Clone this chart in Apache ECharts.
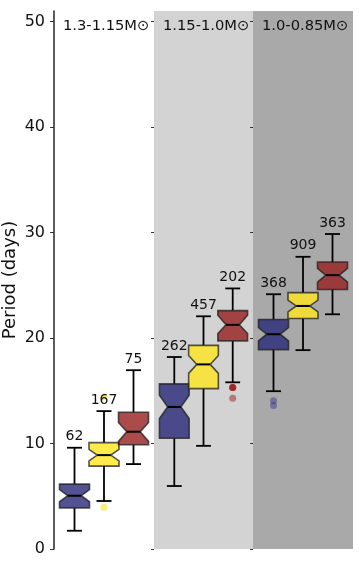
<!DOCTYPE html>
<html>
<head>
<meta charset="utf-8">
<script src="https://cdn.jsdelivr.net/npm/echarts@6/dist/echarts.min.js"></script>
<style>
  html, body { margin: 0; padding: 0; background: #fff; }
  #chart { width: 360px; height: 561px; }
</style>
</head>
<body>
<div id="chart"></div>
<script>
// panels (mass bins), each with 3 boxes: blue, yellow, red
const panelNames = ['1.3-1.15M\u2299', '1.15-1.0M\u2299', '1.0-0.85M\u2299']
const yTicks = [0, 10, 20, 30, 40, 50]

const counts = [[62, 167, 75], [262, 457, 202], [368, 909, 363]]
const whiskerLow = [[1.73, 4.55, 8.05], [5.97, 9.78, 15.8], [14.96, 18.85, 22.25]]
const q1 = [[3.9, 7.86, 9.88], [10.5, 15.2, 19.73], [18.9, 21.85, 24.6]]
const median = [[5.05, 8.9, 11.12], [13.47, 17.5, 21.25], [20.36, 23.04, 25.96]]
const q3 = [[6.15, 10.08, 12.96], [15.65, 19.3, 22.6], [21.75, 24.3, 27.2]]
const whiskerHigh = [[9.6, 13.07, 16.95], [18.2, 22.06, 24.7], [24.15, 27.7, 29.86]]
const notchLow = [[4.48, 8.35, 10.2], [12.37, 16.65, 20.43], [19.73, 22.47, 25.3]]
const notchHigh = [[5.62, 9.45, 12.0], [14.57, 18.35, 22.16], [20.99, 23.6, 26.6]]
const outliers = [
  [[], [14.4, 3.95], []],
  [[], [], [15.3, 15.3, 15.3, 14.3]],
  [[14.05, 13.6], [], []]
]

const boxFill = ['rgba(40,40,120,0.8)', 'rgba(255,230,30,0.8)', 'rgba(150,30,30,0.8)']
const flierFill = ['rgba(40,40,140,0.55)', 'rgba(255,228,30,0.75)', 'rgba(150,0,0,0.55)']
const panelBg = ['#ffffff', '#d3d3d3', '#a9a9a9']
const boxOffset = [-0.295, 0, 0.295]
const boxW = 0.3
const font = 'DejaVu Sans'

const gridLeft = [54, 154, 253]
const gridWidth = [100, 99, 100]

function renderBox(params, api) {
  const x = api.value(0)
  const p = {
    wl: api.coord([x, api.value(1)]),
    q1: api.coord([x, api.value(2)]),
    med: api.coord([x, api.value(3)]),
    q3: api.coord([x, api.value(4)]),
    wh: api.coord([x, api.value(5)]),
    nlo: api.coord([x, api.value(6)]),
    nhi: api.coord([x, api.value(7)])
  }
  const n = api.value(8)
  const ci = api.value(9)
  const cx = p.med[0]
  const half = api.size([boxW, 0])[0] / 2
  const L = cx - half, R = cx + half
  const ind = half * 0.55
  const capHalf = half / 2
  const black = { stroke: '#000', lineWidth: 1.8 }
  return {
    type: 'group',
    children: [
      { type: 'line', shape: { x1: cx, y1: p.wl[1], x2: cx, y2: p.q1[1] }, style: black },
      { type: 'line', shape: { x1: cx, y1: p.q3[1], x2: cx, y2: p.wh[1] }, style: black },
      { type: 'line', shape: { x1: cx - capHalf, y1: p.wl[1], x2: cx + capHalf, y2: p.wl[1] }, style: black },
      { type: 'line', shape: { x1: cx - capHalf, y1: p.wh[1], x2: cx + capHalf, y2: p.wh[1] }, style: black },
      {
        type: 'polygon',
        shape: {
          points: [
            [L, p.q3[1]], [R, p.q3[1]], [R, p.nhi[1]], [R - ind, p.med[1]], [R, p.nlo[1]],
            [R, p.q1[1]], [L, p.q1[1]], [L, p.nlo[1]], [L + ind, p.med[1]], [L, p.nhi[1]]
          ]
        },
        style: { fill: boxFill[ci], stroke: 'rgba(30,30,30,0.75)', lineWidth: 1.6 }
      },
      { type: 'line', shape: { x1: L + ind, y1: p.med[1], x2: R - ind, y2: p.med[1] }, style: { stroke: '#000', lineWidth: 2 } },
      {
        type: 'text',
        style: {
          text: String(n), x: cx, y: p.wh[1] - 4,
          align: 'center', verticalAlign: 'bottom',
          fontSize: 14, fontFamily: font, fill: '#111'
        }
      }
    ]
  }
}

const grid = [], xAxis = [], yAxis = [], series = [], title = []
for (let i = 0; i < 3; i++) {
  grid.push({
    left: gridLeft[i], width: gridWidth[i], top: 11, bottom: 12,
    outerBoundsMode: 'none',
    show: true, backgroundColor: panelBg[i], borderWidth: 0
  })
  xAxis.push({ gridIndex: i, type: 'value', min: 0, max: 1, show: false })
  yAxis.push({
    gridIndex: i, type: 'value', min: 0, max: 51, interval: 10,
    name: i === 0 ? 'Period (days)' : '',
    nameLocation: 'middle', nameGap: 35,
    nameTextStyle: { fontSize: 18, fontFamily: font, color: '#111' },
    splitLine: { show: false },
    axisLine: { show: i === 0, lineStyle: { color: '#333', width: 1.6 } },
    axisTick: { show: true, inside: false, length: i === 0 ? 4 : 3, customValues: yTicks, lineStyle: { color: '#333', width: 1 } },
    axisLabel: { show: i === 0, customValues: yTicks, fontSize: 16, fontFamily: font, color: '#111', margin: 9 }
  })
  title.push({
    text: panelNames[i], left: gridLeft[i] + 9, top: 19, padding: 0,
    textStyle: { fontSize: 14.7, fontWeight: 'normal', fontFamily: font, color: '#111' }
  })

  const boxes = []
  for (let j = 0; j < 3; j++) {
    boxes.push([0.5 + boxOffset[j], whiskerLow[i][j], q1[i][j], median[i][j], q3[i][j],
      whiskerHigh[i][j], notchLow[i][j], notchHigh[i][j], counts[i][j], j])
    if (outliers[i][j].length) {
      series.push({
        type: 'scatter', xAxisIndex: i, yAxisIndex: i, z: 1,
        symbol: 'circle', symbolSize: 7, silent: true,
        itemStyle: { color: flierFill[j], borderWidth: 0 },
        data: outliers[i][j].map(v => [0.5 + boxOffset[j], v])
      })
    }
  }
  series.push({
    type: 'custom', xAxisIndex: i, yAxisIndex: i, z: 2, clip: false,
    renderItem: renderBox,
    encode: { x: 0, y: [1, 2, 3, 4, 5] },
    data: boxes
  })
}

const chart = echarts.init(document.getElementById('chart'))
chart.setOption({
  animation: false,
  title: title,
  grid: grid,
  xAxis: xAxis,
  yAxis: yAxis,
  series: series
})
</script>
</body>
</html>
